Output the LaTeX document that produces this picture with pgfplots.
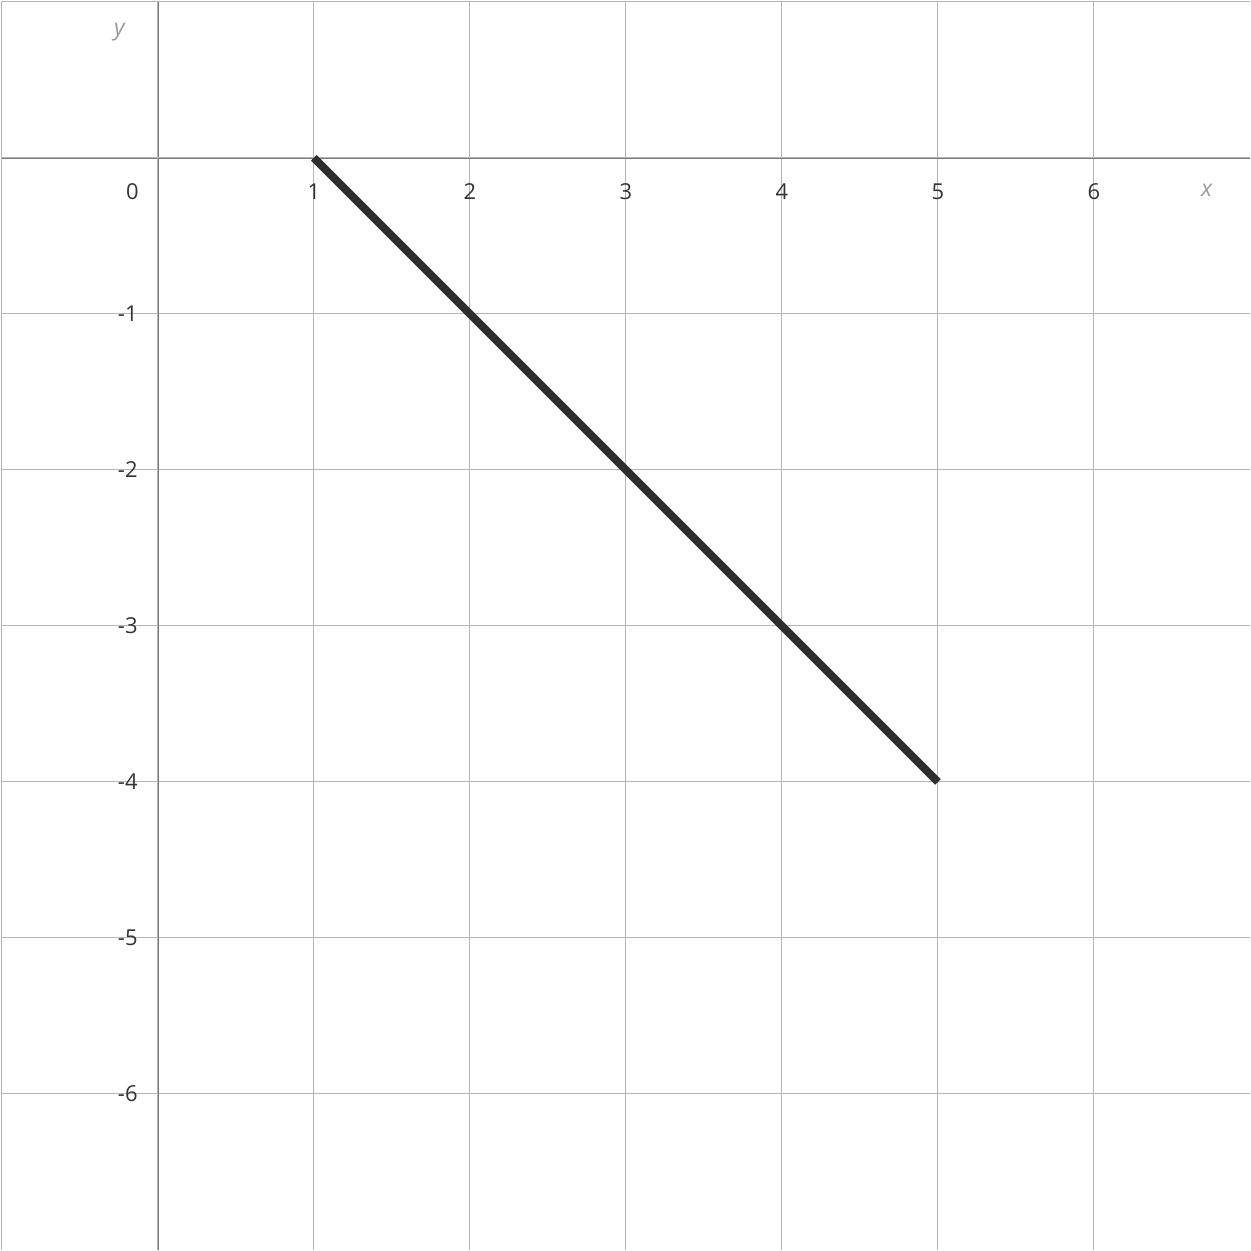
\documentclass[border=0pt]{standalone}
\usepackage{fontspec}
\setmainfont{Open Sans}
\usepackage{pgfplots}
\pgfplotsset{compat=1.18}
\definecolor{gridgray}{HTML}{B4B4B4}
\definecolor{axisgray}{HTML}{7A7A7A}
\definecolor{labelgray}{HTML}{9A9A9A}
\definecolor{ink}{HTML}{2E2E2E}
\definecolor{tickink}{HTML}{333333}
\begin{document}
\begin{tikzpicture}
\begin{axis}[
    width=20cm, height=20cm,
    scale only axis,
    axis lines=middle,
    axis line style={-, axisgray, line width=0.9pt},
    xmin=-1.005, xmax=7.0,
    ymin=-7.0, ymax=1.005,
    xtick={1,2,3,4,5,6},
    ytick={-6,-5,-4,-3,-2,-1},
    extra x ticks={-1,0}, extra x tick labels={},
    extra y ticks={0,1}, extra y tick labels={},
    extra tick style={grid=major},
    grid=major,
    major grid style={gridgray, line width=0.45pt},
    major tick length=0pt,
    /pgf/number format/assume math mode=true,
    tick label style={font=\fontsize{10}{12}\selectfont, text=tickink, inner sep=0pt},
    xticklabel style={anchor=center, yshift=-15.5pt},
    yticklabel style={anchor=east, xshift=-9pt},
    xlabel={\textit{x}},
    ylabel={\textit{y}},
    label style={font=\fontsize{10.5}{13}\selectfont, text=labelgray, inner sep=0pt},
    xlabel style={at={(axis description cs:0.9656,0.848)}, anchor=center},
    ylabel style={at={(axis description cs:0.0952,0.975)}, anchor=center, rotate=0},
]
\addplot[ink, line width=3.6pt, line cap=butt] coordinates {(1,0) (5,-4)};
\node[font=\fontsize{10}{12}\selectfont, text=tickink, inner sep=0pt, anchor=east]
    at (axis cs:0,-0.218) [xshift=-8.5pt] {0};
\end{axis}
\end{tikzpicture}
\end{document}
